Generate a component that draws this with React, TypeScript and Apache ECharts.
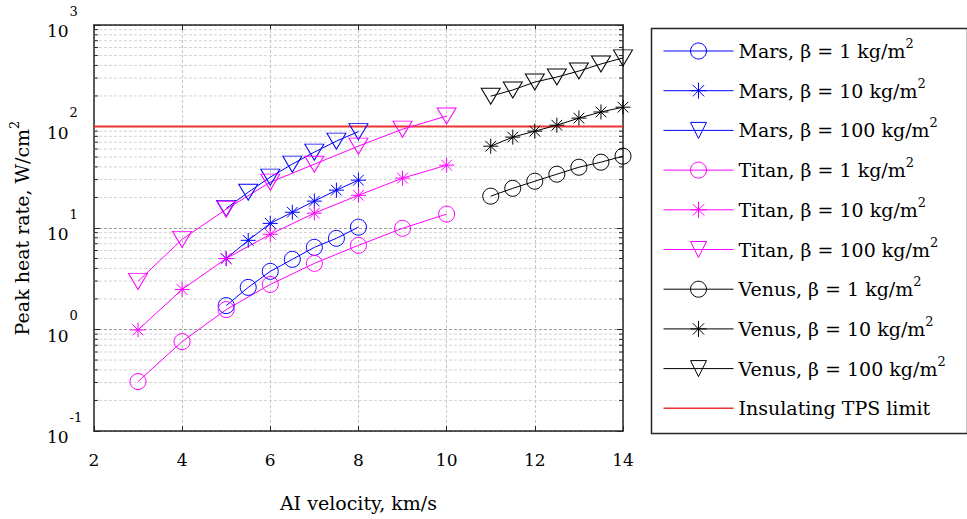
import React, { useEffect, useRef } from 'react';
import * as echarts from 'echarts';

// ---------- data ----------
const marsVelocity = [5, 5.5, 6, 6.5, 7, 7.5, 8];
const titanVelocity = [3, 4, 5, 6, 7, 8, 9, 10];
const venusVelocity = [11, 11.5, 12, 12.5, 13, 13.5, 14];

const marsBeta1 = [1.72, 2.6, 3.74, 4.91, 6.45, 7.91, 10.2];
const marsBeta10 = [5.0, 7.56, 11.1, 14.3, 18.4, 23.6, 29.6];
const marsBeta100 = [15.6, 22.5, 31.7, 42.6, 55.9, 71.8, 89];
const titanBeta1 = [0.307, 0.76, 1.57, 2.78, 4.48, 6.75, 9.93, 13.7];
const titanBeta10 = [0.99, 2.48, 5.0, 8.67, 14.0, 21.0, 31, 41.6];
const titanBeta100 = [2.98, 7.73, 15.3, 28.3, 42.5, 64.1, 94.2, 126.7];
const venusBeta1 = [20.6, 24.6, 28.9, 33.9, 39.7, 44.5, 51];
const venusBeta10 = [64, 78.6, 90, 103, 121, 139, 155];
const venusBeta100 = [199, 229, 274, 307, 352, 413, 474];

const tpsLimit = 100;
const velocityRange = [2, 14];
const heatRange = [0.1, 1000];
const minorGridValues = [
  0.2, 0.3, 0.4, 0.5, 0.6, 0.7, 0.8, 0.9,
  2, 3, 4, 5, 6, 7, 8, 9,
  20, 30, 40, 50, 60, 70, 80, 90,
  200, 300, 400, 500, 600, 700, 800, 900,
];

const FONT = '"DejaVu Serif", serif';
const BLUE = '#0000ff';
const MAGENTA = '#ff00ff';
const BLACK = '#000000';
const RED = '#ee3333';
const AXIS = '#262626';

const CIRCLE = 'circle';
const STAR = 'path://M8,0L8,16M0,8L16,8M2.3,2.3L13.7,13.7M2.3,13.7L13.7,2.3';
const TRI = 'path://M0,0L20,0L10,16Z';

const symbolSizes: Record<string, any> = {
  [CIRCLE]: 16,
  [STAR]: 15,
  [TRI]: [19, 16],
};

const pairs = (xs: number[], ys: number[]) => xs.map((x, i) => [x, ys[i]]);

const seriesDefs = [
  { name: 'Mars, β = 1 kg/m²', color: BLUE, symbol: CIRCLE, x: marsVelocity, y: marsBeta1 },
  { name: 'Mars, β = 10 kg/m²', color: BLUE, symbol: STAR, x: marsVelocity, y: marsBeta10 },
  { name: 'Mars, β = 100 kg/m²', color: BLUE, symbol: TRI, x: marsVelocity, y: marsBeta100 },
  { name: 'Titan, β = 1 kg/m²', color: MAGENTA, symbol: CIRCLE, x: titanVelocity, y: titanBeta1 },
  { name: 'Titan, β = 10 kg/m²', color: MAGENTA, symbol: STAR, x: titanVelocity, y: titanBeta10 },
  { name: 'Titan, β = 100 kg/m²', color: MAGENTA, symbol: TRI, x: titanVelocity, y: titanBeta100 },
  { name: 'Venus, β = 1 kg/m²', color: BLACK, symbol: CIRCLE, x: venusVelocity, y: venusBeta1 },
  { name: 'Venus, β = 10 kg/m²', color: BLACK, symbol: STAR, x: venusVelocity, y: venusBeta10 },
  { name: 'Venus, β = 100 kg/m²', color: BLACK, symbol: TRI, x: venusVelocity, y: venusBeta100 },
];
const limitName = 'Insulating TPS limit';

export default function App() {
  const ref = useRef<HTMLDivElement>(null);

  useEffect(() => {
    document.body.style.margin = '0';
    const chart = echarts.init(ref.current!, null, { renderer: 'svg' });

    const lineSeries = seriesDefs.map((d) => ({
      type: 'line',
      name: d.name,
      data: pairs(d.x, d.y),
      symbol: d.symbol,
      symbolSize: symbolSizes[d.symbol],
      showAllSymbol: true,
      lineStyle: { color: d.color, width: 1 },
      itemStyle: { color: 'rgba(0,0,0,0)', borderColor: d.color, borderWidth: 1 },
      z: 5,
    }));

    const option: any = {
      animation: false,
      backgroundColor: '#ffffff',
      grid: { left: 91, right: 344, top: 25, bottom: 88, containLabel: false },
      xAxis: [
        {
          type: 'value',
          min: velocityRange[0],
          max: velocityRange[1],
          interval: 2,
          position: 'bottom',
          axisLine: { show: true, onZero: false, lineStyle: { color: AXIS, width: 1.5 } },
          axisTick: { show: true, inside: true, length: 5, lineStyle: { color: AXIS } },
          axisLabel: { fontFamily: FONT, fontSize: 17, color: '#000', margin: 20 },
          splitLine: { show: true, lineStyle: { color: '#c4c4c4', type: [3, 2], width: 1 } },
          name: 'AI velocity, km/s',
          nameLocation: 'middle',
          nameGap: 62,
          nameTextStyle: { fontFamily: FONT, fontSize: 19, color: '#000' },
        },
        {
          type: 'value',
          min: velocityRange[0],
          max: velocityRange[1],
          interval: 2,
          position: 'top',
          axisLine: { show: true, onZero: false, lineStyle: { color: AXIS, width: 1.5 } },
          axisTick: { show: true, inside: true, length: 5, lineStyle: { color: AXIS } },
          axisLabel: { show: false },
          splitLine: { show: false },
        },
      ],
      yAxis: [
        {
          type: 'log',
          logBase: 10,
          min: heatRange[0],
          max: heatRange[1],
          position: 'left',
          axisLine: { show: true, onZero: false, lineStyle: { color: AXIS, width: 1.5 } },
          axisTick: { show: true, inside: true, length: 6, lineStyle: { color: AXIS } },
          axisLabel: {
            align: 'left',
            margin: 47,
            padding: [0, 0, 6, 0],
            formatter: (v: number) => `{b|10}{e|${Math.round(Math.log10(v))}}`,
            rich: {
              b: { fontFamily: FONT, fontSize: 17, color: '#000', lineHeight: 20, verticalAlign: 'bottom' },
              e: { fontFamily: FONT, fontSize: 13, color: '#000', padding: [0, 0, 22, 1], verticalAlign: 'top' },
            },
          },
          splitLine: { show: true, lineStyle: { color: '#9a9a9a', type: [3, 2], width: 1 } },
          name: 'Peak heat rate, W/cm{s|2}',
          nameLocation: 'middle',
          nameRotate: 90,
          nameGap: 45,
          nameTextStyle: {
            fontFamily: FONT,
            fontSize: 19,
            color: '#000',
            lineHeight: 28,
            rich: { s: { fontFamily: FONT, fontSize: 13, color: '#000', verticalAlign: 'top' } },
          },
        },
        {
          type: 'log',
          logBase: 10,
          min: heatRange[0],
          max: heatRange[1],
          position: 'right',
          axisLine: { show: true, onZero: false, lineStyle: { color: AXIS, width: 1.5 } },
          axisTick: { show: true, inside: true, length: 6, lineStyle: { color: AXIS } },
          axisLabel: { show: false },
          splitLine: { show: false },
        },
      ],
      legend: {
        orient: 'vertical',
        left: 663,
        top: 37,
        padding: 0,
        itemWidth: 70,
        itemHeight: 20,
        itemGap: 11.7,
        selectedMode: false,
        textStyle: {
          fontFamily: FONT,
          fontSize: 19,
          color: '#000',
          lineHeight: 28,
          rich: { s: { fontFamily: FONT, fontSize: 13, color: '#000', verticalAlign: 'top' } },
        },
        formatter: (name: string) => name.replace('²', '{s|2}'),
        data: [
          ...seriesDefs.map((d) => ({
            name: d.name,
            itemStyle: { color: 'rgba(0,0,0,0)', borderColor: d.color, borderWidth: 1 },
            lineStyle: { color: d.color, width: 1 },
          })),
          {
            name: limitName,
            icon: 'path://M0,0L70,0L70,1.6L0,1.6Z',
            itemStyle: { color: RED, borderWidth: 0 },
          },
        ],
      },
      graphic: [
        {
          type: 'rect',
          left: 649,
          top: 26,
          shape: { width: 316, height: 405 },
          style: { fill: 'none', stroke: AXIS, lineWidth: 1.5 },
          silent: true,
        },
      ],
      series: [
        {
          type: 'custom',
          name: 'minor grid',
          coordinateSystem: 'cartesian2d',
          silent: true,
          z: 1,
          data: minorGridValues.map((v) => [velocityRange[0], v]),
          renderItem: (params: any, api: any) => {
            const v = api.value(1);
            const a = api.coord([velocityRange[0], v]);
            const b = api.coord([velocityRange[1], v]);
            return {
              type: 'group',
              children: [
                { type: 'line', shape: { x1: a[0], y1: a[1], x2: b[0], y2: b[1] }, style: { stroke: '#d2d2d2', lineWidth: 1, lineDash: [3, 2] } },
                { type: 'line', shape: { x1: a[0], y1: a[1], x2: a[0] + 4, y2: a[1] }, style: { stroke: AXIS, lineWidth: 1 } },
                { type: 'line', shape: { x1: b[0] - 4, y1: b[1], x2: b[0], y2: b[1] }, style: { stroke: AXIS, lineWidth: 1 } },
              ],
            };
          },
        },
        ...lineSeries,
        {
          type: 'line',
          name: limitName,
          data: [[velocityRange[0], tpsLimit], [velocityRange[1], tpsLimit]],
          symbol: 'none',
          lineStyle: { color: RED, width: 2 },
          itemStyle: { color: RED },
          z: 4,
        },
      ],
    };

    chart.setOption(option);
    return () => chart.dispose();
  }, []);

  return <div ref={ref} style={{ width: 967, height: 519 }} />;
}
